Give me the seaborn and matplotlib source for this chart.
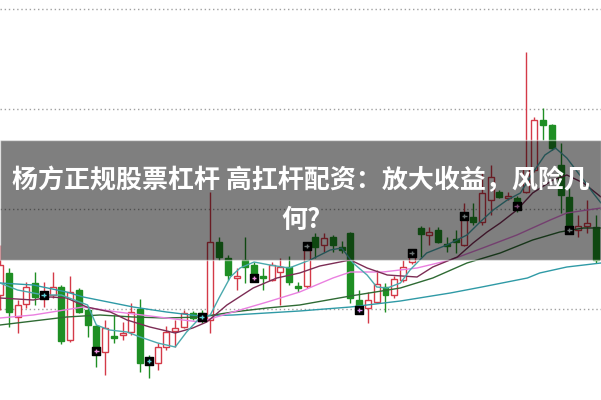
import matplotlib
matplotlib.use("Agg")
import matplotlib.pyplot as plt
from matplotlib.patches import Rectangle
import seaborn as sns
import pandas as pd
import numpy as np

# daily candles (open, close, high, low)
opens = [10.14, 10.36, 9.92, 10.05, 10.26, 10.13, 10.14, 10.22, 9.69, 10.19,
         9.99, 9.83, 9.57, 9.73, 9.74, 9.77, 10.00, 9.51, 9.46, 9.62,
         9.78, 9.82, 9.96, 9.96, 9.89, 10.67, 10.51, 10.31, 10.49, 10.44,
         10.33, 10.29, 10.37, 10.42, 10.23, 10.23, 10.72, 10.64, 10.72, 10.62,
         10.76, 10.09, 10.01, 10.07, 10.22, 10.14, 10.29, 10.47, 10.81, 10.74,
         10.79, 10.65, 10.70, 10.64, 10.92, 10.87, 11.09, 11.17, 11.11, 11.11,
         11.17, 11.39, 11.89, 11.84, 11.44, 11.12, 10.79, 10.83, 10.82]
closes = [10.44, 9.97, 10.04, 10.22, 10.12, 10.16, 10.22, 9.68, 10.17, 9.97,
          9.84, 9.57, 9.81, 9.71, 9.76, 9.97, 9.46, 9.46, 9.62, 9.77,
          9.81, 9.96, 9.91, 9.89, 10.67, 10.52, 10.34, 10.33, 10.42, 10.31,
          10.31, 10.44, 10.42, 10.27, 10.21, 10.59, 10.62, 10.71, 10.64, 10.59,
          10.11, 10.00, 10.09, 10.25, 10.14, 10.30, 10.42, 10.56, 10.75, 10.77,
          10.67, 10.63, 10.67, 10.94, 10.87, 11.16, 11.32, 11.12, 11.13, 11.01,
          11.41, 11.89, 11.84, 11.61, 11.14, 10.78, 10.83, 10.86, 10.49]
highs = [10.64, 10.41, 10.09, 10.27, 10.37, 10.27, 10.37, 10.24, 10.33, 10.21,
         10.03, 9.84, 9.89, 9.94, 9.87, 10.06, 10.10, 9.54, 9.66, 9.83,
         9.89, 9.99, 9.98, 9.99, 11.17, 10.72, 10.54, 10.41, 10.72, 10.47,
         10.41, 10.47, 10.51, 10.53, 10.27, 10.66, 10.76, 10.76, 10.74, 10.68,
         10.77, 10.19, 10.17, 10.39, 10.26, 10.33, 10.49, 10.59, 10.83, 10.82,
         10.82, 10.72, 10.79, 11.06, 11.06, 11.36, 11.44, 11.19, 11.17, 11.13,
         12.57, 11.92, 12.01, 11.85, 11.66, 11.21, 10.94, 11.09, 10.94]
lows = [9.99, 9.82, 9.76, 10.01, 10.04, 10.02, 10.11, 9.65, 9.67, 9.96,
        9.72, 9.42, 9.34, 9.66, 9.69, 9.74, 9.37, 9.31, 9.39, 9.59,
        9.62, 9.81, 9.89, 9.86, 9.76, 10.49, 10.29, 10.19, 10.26, 10.29,
        10.19, 10.28, 10.04, 10.24, 10.17, 10.21, 10.51, 10.57, 10.57, 10.56,
        10.06, 9.96, 9.86, 10.06, 9.97, 10.11, 10.27, 10.45, 10.52, 10.64,
        10.66, 10.57, 10.56, 10.63, 10.84, 10.84, 10.94, 11.11, 11.09, 10.97,
        11.16, 11.37, 11.69, 11.59, 10.96, 10.76, 10.72, 10.76, 10.46]

# signal boxes
sig_idx = [5, 11, 17, 23, 29, 35, 41, 47, 53, 59, 65]
sig_val = [10.14, 9.58, 9.48, 9.92, 10.31, 10.63, 9.99, 10.56, 10.93, 11.03, 10.79]
sig_col = ["#5fd0d8", "#f090e0", "#5fd0d8", "#5fd0d8", "#f090e0", "#d8e8e8",
           "#d090e8", "#d8e8e8", "#d8e8e8", "#f090e0", "#d8e8e8"]

# moving averages
ma5_x = [0, 2, 5, 7, 10, 11, 12.5, 14.5, 16, 18, 20, 21.3, 22.8, 24, 25, 26.3, 27.4,
         29, 30.8, 33, 35.4, 37.7, 39, 40.3, 41.9, 43, 44.2, 45.7, 46.8, 48.7, 51,
         53.3, 54.8, 56.3, 57.9, 59.4, 60.8, 62.2, 63.4, 64.7, 66.6, 67.7, 68.6]
ma5_y = [10.26, 10.19, 10.14, 10.14, 10.04, 9.84, 9.79, 9.77, 9.72, 9.66, 9.62, 9.77,
         9.91, 9.94, 10.11, 10.32, 10.41, 10.47, 10.44, 10.41, 10.49, 10.59, 10.61,
         10.46, 10.34, 10.22, 10.21, 10.26, 10.39, 10.56, 10.64, 10.74, 10.87, 10.99,
         11.09, 11.16, 11.36, 11.54, 11.61, 11.51, 11.29, 11.16, 11.06]
ma10_x = [0, 3.8, 5.7, 7.6, 9.9, 12.6, 14.5, 17.1, 20, 22, 23.6, 25.9, 28.9, 31.6,
          34.2, 36.5, 38.8, 40, 41.9, 44.2, 47.6, 49.4, 52.2, 54, 55.6, 57.1, 59,
          60.8, 63.1, 64.7, 66.6, 68.6]
ma10_y = [10.11, 10.09, 10.12, 10.11, 10.02, 9.97, 9.89, 9.82, 9.76, 9.81, 9.87,
          10.04, 10.21, 10.31, 10.36, 10.43, 10.47, 10.49, 10.41, 10.34, 10.32, 10.42,
          10.52, 10.66, 10.77, 10.86, 10.99, 11.16, 11.29, 11.34, 11.26, 11.12]
ma20_x = [0, 3.8, 9.5, 13.4, 19, 22.8, 26.6, 30.5, 34.2, 38, 40, 43.7, 47.6, 51.4,
          55.1, 59, 62.8, 64.7, 68.6]
ma20_y = [9.91, 9.94, 10.02, 9.97, 9.91, 9.87, 9.97, 10.07, 10.17, 10.31, 10.37,
          10.37, 10.41, 10.49, 10.61, 10.74, 10.89, 10.96, 11.01]
ma30_x = [0, 7.6, 11.4, 15.2, 19, 22.8, 26.6, 30.5, 34.2, 40, 45.7, 49.4, 53.3,
          57.1, 60.8, 63.9, 66.6, 68.6]
ma30_y = [9.84, 9.92, 9.94, 9.92, 9.91, 9.92, 9.97, 10.01, 10.04, 10.13, 10.21,
          10.31, 10.46, 10.56, 10.69, 10.77, 10.81, 10.81]
ma60_x = [0, 3.8, 7.6, 9.5, 15.2, 19, 22.8, 26.6, 34.2, 40, 45.7, 51.4, 55, 60.2,
          61.6, 64.7, 68.6]
ma60_y = [10.26, 10.24, 10.17, 10.12, 10.02, 9.97, 9.93, 9.94, 9.98, 10.02, 10.08,
          10.16, 10.22, 10.31, 10.36, 10.42, 10.46]

title1 = "杨方正规股票杠杆 高扛杆配资：放大收益，风险几"
title2 = "何?"

sns.set_theme(style="white")
plt.rcParams['font.family'] = ['Noto Sans CJK SC', 'DejaVu Sans']

fig = plt.figure(figsize=(6.01, 4.0), dpi=100)
ax = fig.add_axes([0, 0, 1, 1])

up_col = "#d43a48"
dn_col = "#1f8f24"
n = len(opens)
idx = np.arange(n)
for i in idx:
    o, c, h, l = opens[i], closes[i], highs[i], lows[i]
    col = up_col if c >= o else dn_col
    ax.vlines(i, l, h, color=col, lw=1, zorder=2)
    lo, hi = min(o, c), max(o, c)
    hgt = max(hi - lo, 0.02)
    if c >= o:
        ax.bar(i, hgt, bottom=lo, width=0.68, facecolor="white",
               edgecolor=col, lw=1, zorder=3)
    else:
        ax.bar(i, hgt, bottom=lo, width=0.68, facecolor=col,
               edgecolor=col, lw=1, zorder=3)

ma_sets = [(ma60_x, ma60_y, "#2f9aa6"), (ma30_x, ma30_y, "#2f6b34"),
           (ma20_x, ma20_y, "#ea80e0"), (ma10_x, ma10_y, "#7c2d55"),
           (ma5_x, ma5_y, "#4aa9ad")]
for xs, ys, col in ma_sets:
    d = pd.DataFrame({"x": xs, "y": ys})
    sns.lineplot(data=d, x="x", y="y", color=col, lw=1.0, ax=ax, zorder=4,
                 sort=False, estimator=None)

ax.scatter(sig_idx, sig_val, marker="s", s=30, color="black", zorder=5)
ax.scatter(sig_idx, sig_val, marker="+", s=12, c=sig_col, lw=1.0, zorder=6)

ax.set_xlim(0, 68.6)
ax.set_ylim(9.09, 13.09)
for g in [10, 11, 12, 13]:
    ax.axhline(g, color="#a0a0a0", lw=1, ls=(0, (1, 2)), zorder=1)
ax.set_xticks([])
ax.set_yticks([])
ax.set_xlabel("")
ax.set_ylabel("")
for s in ax.spines.values():
    s.set_visible(False)

fig.patches.append(Rectangle((0, 1 - 260 / 400), 1, 120 / 400,
                             transform=fig.transFigure, facecolor="black",
                             alpha=0.5, zorder=10))
fig.text(0.5, 1 - 181 / 400, title1, color="white", fontsize=18.7,
         fontweight="bold", ha="center", va="center", zorder=11)
fig.text(0.5, 1 - 220 / 400, title2, color="white", fontsize=18.7,
         fontweight="bold", ha="center", va="center", zorder=11)

fig.savefig("out.png", dpi=100)
